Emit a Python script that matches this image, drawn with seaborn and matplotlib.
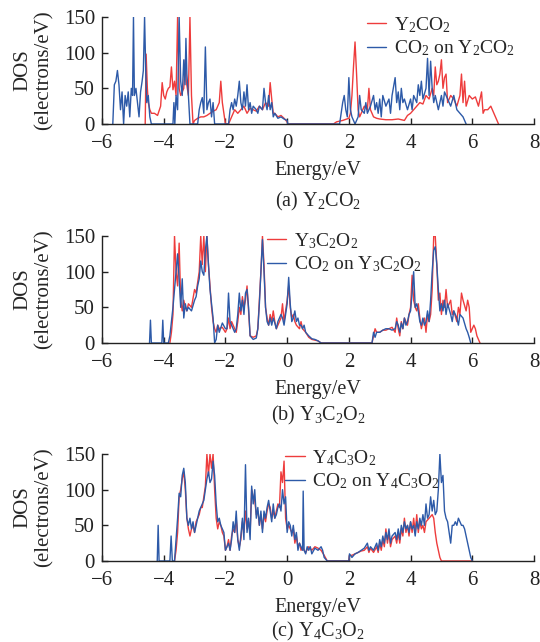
import numpy as np
import pandas as pd
import matplotlib
matplotlib.use("Agg")
import matplotlib.pyplot as plt
import seaborn as sns

# ---------------- data (energy eV, DOS electrons/eV) ----------------
a_red = [(-4.60,0),(-4.57,98),(-4.53,50),(-4.50,30),(-4.45,20),(-4.40,15),(-4.30,15),(-4.20,12),(-4.10,25),(-4.05,58),
         (-4.00,40),(-3.95,35),(-3.90,45),(-3.85,50),(-3.80,52),(-3.75,80),(-3.70,48),(-3.65,60),(-3.60,40),(-3.55,150),
         (-3.50,50),(-3.45,40),(-3.40,45),(-3.35,50),(-3.30,90),(-3.27,60),(-3.20,40),(-3.15,150),(-3.10,40),(-3.05,0),
         (-3.00,5),(-2.90,8),(-2.80,10),(-2.70,10),(-2.60,12),(-2.50,15),(-2.40,18),(-2.30,20),(-2.20,30),(-2.15,60),
         (-2.10,30),(-2.05,15),(-2.00,0),(-1.90,0),(-1.80,10),(-1.70,20),(-1.60,15),(-1.50,20),(-1.40,25),(-1.30,15),
         (-1.20,22),(-1.10,20),(-1.00,18),(-0.90,25),(-0.80,20),(-0.70,30),(-0.60,25),(-0.55,58),(-0.50,35),(-0.45,15),
         (-0.40,15),(-0.30,10),(-0.20,12),(-0.10,8),(0.00,3),(0.02,0),
         (1.50,0),(1.60,3),(1.80,5),(2.00,8),(2.05,15),(2.10,40),(2.15,80),(2.20,115),(2.25,70),(2.30,20),
         (2.35,10),(2.40,15),(2.50,25),(2.60,20),(2.65,50),(2.70,20),(2.80,10),(2.90,8),(3.00,7),(3.20,6),
         (3.40,6),(3.60,7),(3.80,5),(3.90,12),(4.00,15),(4.10,20),(4.20,25),(4.30,30),(4.40,28),(4.50,40),
         (4.60,35),(4.70,50),(4.75,40),(4.80,80),(4.85,55),(4.90,60),(4.95,70),(5.00,90),(5.05,50),(5.10,65),
         (5.15,70),(5.20,30),(5.30,40),(5.40,35),(5.50,25),(5.60,40),(5.65,70),(5.70,30),(5.75,60),(5.80,25),
         (5.90,40),(6.00,35),(6.10,38),(6.20,25),(6.30,45),(6.35,15),(6.40,20),(6.50,20),(6.60,25),(6.70,15),
         (6.80,5),(6.85,0)]
a_blue = [(-5.65,0),(-5.60,55),(-5.55,60),(-5.50,75),(-5.45,55),(-5.40,20),(-5.35,45),(-5.30,0),(-5.25,40),(-5.20,25),
          (-5.15,45),(-5.10,10),(-5.05,50),(-5.01,40),(-4.98,150),(-4.95,40),(-4.90,50),(-4.85,30),(-4.80,10),(-4.75,45),
          (-4.70,60),(-4.66,75),(-4.62,150),(-4.58,70),(-4.55,30),(-4.50,40),(-4.45,10),(-4.40,0),(-3.70,0),(-3.67,30),
          (-3.64,0),(-3.60,40),(-3.55,20),(-3.50,150),(-3.45,60),(-3.40,40),(-3.35,90),(-3.31,55),(-3.28,120),(-3.25,70),
          (-3.20,40),(-3.15,0),(-2.90,0),(-2.85,20),(-2.80,30),(-2.75,37),(-2.70,15),(-2.65,108),(-2.60,20),(-2.55,30),
          (-2.50,35),(-2.45,10),(-2.40,30),(-2.35,0),(-1.90,0),(-1.85,20),(-1.80,30),(-1.75,20),(-1.70,35),(-1.65,25),
          (-1.60,40),(-1.55,60),(-1.50,30),(-1.45,20),(-1.40,45),(-1.35,25),(-1.30,55),(-1.25,20),(-1.20,30),(-1.15,15),
          (-1.10,25),(-1.00,20),(-0.95,15),(-0.90,25),(-0.80,20),(-0.75,50),(-0.70,30),(-0.65,20),(-0.60,40),(-0.55,20),
          (-0.50,30),(-0.45,10),(-0.40,15),(-0.30,8),(-0.20,10),(-0.10,7),(0.00,5),(0.02,0),
          (1.70,0),(1.75,15),(1.80,30),(1.85,40),(1.90,20),(1.95,10),(2.00,65),(2.05,20),(2.10,10),(2.20,0),
          (2.30,10),(2.35,40),(2.40,20),(2.50,15),(2.55,30),(2.60,15),(2.70,25),(2.80,40),(2.85,20),(2.90,30),
          (2.95,15),(3.00,35),(3.05,10),(3.10,40),(3.20,25),(3.30,35),(3.35,15),(3.40,40),(3.50,65),(3.55,30),
          (3.60,45),(3.65,20),(3.70,50),(3.75,30),(3.80,35),(3.90,20),(4.00,35),(4.05,20),(4.10,40),(4.20,30),
          (4.25,55),(4.30,40),(4.35,60),(4.40,35),(4.50,50),(4.55,92),(4.60,40),(4.65,88),(4.70,50),(4.75,30),
          (4.80,40),(4.90,20),(5.00,40),(5.05,25),(5.10,45),(5.20,35),(5.30,25),(5.40,40),(5.50,20),(5.60,15),
          (5.70,10),(5.80,0)]

b_red = [(-3.80,0),(-3.75,15),(-3.70,40),(-3.65,150),(-3.60,100),(-3.55,80),(-3.50,140),(-3.45,60),(-3.40,45),(-3.35,60),
         (-3.30,50),(-3.25,45),(-3.20,55),(-3.10,50),(-3.00,75),(-2.95,70),(-2.90,85),(-2.85,100),(-2.80,150),(-2.75,110),
         (-2.70,150),(-2.65,100),(-2.60,150),(-2.55,110),(-2.50,80),(-2.45,50),(-2.40,30),(-2.35,20),(-2.30,15),(-2.25,25),
         (-2.20,20),(-2.10,22),(-2.00,15),(-1.95,20),(-1.90,35),(-1.85,20),(-1.80,30),(-1.70,20),(-1.65,15),(-1.60,30),
         (-1.55,50),(-1.50,40),(-1.45,65),(-1.40,50),(-1.35,60),(-1.30,80),(-1.25,45),(-1.20,10),(-1.10,8),(-1.00,10),
         (-0.95,20),(-0.90,60),(-0.85,100),(-0.80,150),(-0.75,110),(-0.70,50),(-0.65,35),(-0.60,25),(-0.55,40),(-0.50,30),
         (-0.45,45),(-0.40,30),(-0.35,20),(-0.30,25),(-0.20,35),(-0.15,55),(-0.10,30),(-0.05,45),(0.00,60),(0.05,80),
         (0.10,50),(0.15,35),(0.20,40),(0.25,30),(0.30,25),(0.40,20),(0.45,30),(0.50,20),(0.60,15),(0.70,8),
         (0.80,5),(0.90,4),(1.00,3),(1.10,0),
         (2.75,0),(2.80,10),(2.85,20),(2.90,15),(3.00,15),(3.10,18),(3.20,18),(3.30,20),(3.40,22),(3.50,15),
         (3.55,35),(3.60,20),(3.65,10),(3.70,30),(3.75,20),(3.80,35),(3.85,30),(3.90,25),(3.95,40),(4.00,50),
         (4.05,95),(4.10,60),(4.15,50),(4.20,45),(4.25,55),(4.30,35),(4.35,20),(4.40,30),(4.45,35),(4.50,15),
         (4.55,40),(4.60,30),(4.65,40),(4.70,75),(4.75,150),(4.80,150),(4.85,110),(4.90,60),(4.95,70),(5.00,40),
         (5.05,60),(5.10,50),(5.15,75),(5.20,50),(5.30,60),(5.35,40),(5.40,45),(5.50,30),(5.55,50),(5.60,40),
         (5.65,70),(5.70,60),(5.80,45),(5.85,60),(5.90,50),(5.95,15),(6.00,20),(6.05,25),(6.10,20),(6.15,10),
         (6.20,5),(6.25,0)]
b_blue = [(-4.46,0),(-4.43,32),(-4.40,0),(-4.06,0),(-4.03,32),(-4.00,0),(-3.85,0),(-3.80,10),(-3.75,30),(-3.70,50),
          (-3.60,100),(-3.55,125),(-3.50,90),(-3.45,50),(-3.40,90),(-3.35,35),(-3.30,55),(-3.25,45),(-3.20,50),(-3.10,45),
          (-3.00,60),(-2.95,65),(-2.90,80),(-2.85,90),(-2.80,115),(-2.75,100),(-2.70,95),(-2.65,130),(-2.60,150),(-2.55,110),
          (-2.50,75),(-2.45,55),(-2.40,35),(-2.35,0),(-2.30,5),(-2.25,25),(-2.20,15),(-2.10,28),(-2.00,20),(-1.95,20),
          (-1.90,70),(-1.85,30),(-1.80,25),(-1.70,15),(-1.65,20),(-1.60,40),(-1.55,70),(-1.50,45),(-1.45,60),(-1.40,40),
          (-1.35,70),(-1.30,75),(-1.25,50),(-1.20,10),(-1.10,5),(-1.00,7),(-0.95,20),(-0.90,55),(-0.85,100),(-0.80,145),
          (-0.75,100),(-0.70,50),(-0.65,30),(-0.60,25),(-0.55,35),(-0.50,25),(-0.45,35),(-0.40,28),(-0.35,20),(-0.30,30),
          (-0.20,40),(-0.15,35),(-0.10,25),(-0.05,40),(0.00,55),(0.05,92),(0.10,55),(0.15,30),(0.20,35),(0.25,45),
          (0.30,30),(0.35,35),(0.40,25),(0.45,25),(0.50,20),(0.55,25),(0.60,15),(0.70,10),(0.80,6),(0.90,5),
          (1.00,3),(1.10,0),
          (2.75,0),(2.80,15),(2.85,8),(2.90,15),(3.00,15),(3.10,18),(3.20,20),(3.30,20),(3.40,18),(3.50,20),
          (3.55,30),(3.60,25),(3.65,15),(3.70,28),(3.75,20),(3.80,35),(3.85,25),(3.90,30),(3.95,40),(4.00,45),
          (4.05,70),(4.10,100),(4.15,50),(4.20,55),(4.25,45),(4.30,30),(4.35,25),(4.40,35),(4.45,25),(4.50,30),
          (4.55,45),(4.60,30),(4.65,60),(4.70,100),(4.75,130),(4.80,135),(4.85,110),(4.90,75),(4.95,45),(5.00,55),
          (5.05,45),(5.10,60),(5.15,40),(5.20,55),(5.30,40),(5.35,30),(5.40,45),(5.50,35),(5.55,25),(5.60,40),
          (5.70,35),(5.80,20),(5.85,15),(5.90,8),(5.95,0)]

c_red = [(-3.65,0),(-3.60,15),(-3.55,40),(-3.50,90),(-3.45,100),(-3.40,115),(-3.35,125),(-3.30,100),(-3.25,60),(-3.20,45),
         (-3.15,35),(-3.10,45),(-3.05,50),(-3.00,40),(-2.95,55),(-2.90,60),(-2.85,65),(-2.80,75),(-2.75,75),(-2.70,90),
         (-2.65,105),(-2.60,150),(-2.55,120),(-2.50,150),(-2.45,130),(-2.40,150),(-2.35,100),(-2.30,60),(-2.25,45),(-2.20,55),
         (-2.15,50),(-2.10,40),(-2.05,35),(-2.00,15),(-1.95,20),(-1.90,30),(-1.85,15),(-1.80,35),(-1.75,45),(-1.70,40),
         (-1.65,60),(-1.60,30),(-1.55,20),(-1.50,30),(-1.45,55),(-1.40,40),(-1.35,70),(-1.30,45),(-1.25,55),(-1.20,40),
         (-1.15,100),(-1.10,90),(-1.05,85),(-1.00,65),(-0.95,70),(-0.90,50),(-0.85,65),(-0.80,45),(-0.75,65),(-0.70,55),
         (-0.65,70),(-0.60,80),(-0.55,75),(-0.50,60),(-0.45,70),(-0.40,60),(-0.35,70),(-0.30,80),(-0.25,75),(-0.20,125),
         (-0.15,110),(-0.10,140),(-0.05,60),(0.00,45),(0.05,50),(0.10,45),(0.15,40),(0.20,45),(0.25,25),(0.30,35),
         (0.35,20),(0.40,25),(0.45,15),(0.50,20),(0.55,15),(0.60,12),(0.70,20),(0.80,15),(0.90,20),(1.00,18),
         (1.10,15),(1.20,8),(1.30,0),
         (2.00,0),(2.02,8),(2.10,8),(2.20,10),(2.30,12),(2.40,14),(2.50,15),(2.60,20),(2.65,12),(2.70,18),
         (2.80,12),(2.90,20),(2.95,12),(3.00,25),(3.05,15),(3.10,30),(3.15,20),(3.20,45),(3.25,25),(3.30,40),
         (3.35,20),(3.40,30),(3.50,35),(3.55,25),(3.60,40),(3.65,25),(3.70,45),(3.75,35),(3.80,60),(3.85,40),
         (3.90,50),(3.95,35),(4.00,55),(4.05,40),(4.10,60),(4.15,40),(4.20,65),(4.25,40),(4.30,55),(4.35,45),
         (4.40,50),(4.45,40),(4.50,55),(4.60,60),(4.70,65),(4.75,60),(4.80,40),(4.85,25),(4.90,15),(4.95,5),
         (5.00,0),(6.00,0)]
c_blue = [(-4.21,0),(-4.18,50),(-4.15,0),(-3.80,0),(-3.76,35),(-3.72,0),(-3.65,0),(-3.60,30),(-3.55,60),(-3.50,95),
          (-3.45,90),(-3.40,120),(-3.35,130),(-3.30,110),(-3.25,60),(-3.20,50),(-3.15,60),(-3.10,45),(-3.05,55),(-3.00,40),
          (-2.95,50),(-2.90,60),(-2.85,70),(-2.80,75),(-2.75,80),(-2.70,85),(-2.65,100),(-2.60,115),(-2.55,125),(-2.50,110),
          (-2.45,115),(-2.40,140),(-2.35,120),(-2.30,80),(-2.25,55),(-2.20,60),(-2.15,50),(-2.10,45),(-2.05,40),(-2.00,15),
          (-1.95,20),(-1.90,25),(-1.85,15),(-1.80,30),(-1.75,55),(-1.70,40),(-1.65,70),(-1.60,30),(-1.55,15),(-1.50,35),
          (-1.45,60),(-1.40,30),(-1.35,135),(-1.30,40),(-1.25,60),(-1.20,30),(-1.15,105),(-1.10,80),(-1.05,100),(-1.00,60),
          (-0.95,75),(-0.90,50),(-0.85,70),(-0.80,40),(-0.75,70),(-0.70,60),(-0.65,75),(-0.60,85),(-0.55,70),(-0.50,55),
          (-0.45,80),(-0.40,60),(-0.35,65),(-0.30,75),(-0.25,80),(-0.20,70),(-0.15,100),(-0.10,80),(-0.05,90),(0.00,40),
          (0.05,55),(0.10,50),(0.15,35),(0.20,50),(0.25,30),(0.30,40),(0.35,15),(0.40,25),(0.45,20),(0.50,15),
          (0.52,98),(0.55,15),(0.60,10),(0.65,20),(0.70,15),(0.75,20),(0.80,10),(0.90,18),(1.00,15),(1.10,20),
          (1.15,15),(1.20,5),(1.30,0),
          (2.00,0),(2.02,10),(2.10,5),(2.20,10),(2.30,12),(2.40,15),(2.50,18),(2.60,25),(2.65,15),(2.70,20),
          (2.80,15),(2.90,25),(2.95,15),(3.00,30),(3.05,20),(3.10,35),(3.15,25),(3.20,40),(3.25,30),(3.30,45),
          (3.35,25),(3.40,35),(3.50,40),(3.55,30),(3.60,45),(3.65,30),(3.70,50),(3.75,40),(3.80,55),(3.85,45),
          (3.90,50),(3.95,40),(4.00,55),(4.05,45),(4.10,50),(4.15,35),(4.20,55),(4.25,45),(4.30,60),(4.35,50),
          (4.40,65),(4.45,50),(4.50,80),(4.55,60),(4.60,65),(4.65,90),(4.70,70),(4.75,85),(4.80,65),(4.85,70),
          (4.90,100),(4.95,150),(5.00,110),(5.05,120),(5.10,70),(5.15,60),(5.20,55),(5.25,40),(5.30,25),(5.35,50),
          (5.40,50),(5.45,55),(5.50,50),(5.55,60),(5.60,55),(5.65,50),(5.70,50),(5.75,45),(5.80,35),(5.85,25),
          (5.90,15),(5.95,5),(6.00,0)]

red_labels = [r"Y$_2$CO$_2$", r"Y$_3$C$_2$O$_2$", r"Y$_4$C$_3$O$_2$"]
blue_labels = [r"CO$_2$ on Y$_2$CO$_2$", r"CO$_2$ on Y$_3$C$_2$O$_2$", r"CO$_2$ on Y$_4$C$_3$O$_2$"]
captions = [r"(a) Y$_2$CO$_2$", r"(b) Y$_3$C$_2$O$_2$", r"(c) Y$_4$C$_3$O$_2$"]
x_ticks = [-6, -4, -2, 0, 2, 4, 6, 8]
y_ticks = [0, 50, 100, 150]

# ---------------- style ----------------
sns.set_theme(style="ticks")
plt.rcParams["font.family"] = ["Liberation Serif", "DejaVu Serif"]
plt.rcParams["mathtext.fontset"] = "custom"
plt.rcParams["mathtext.rm"] = "Liberation Serif"
plt.rcParams["mathtext.it"] = "Liberation Serif:italic"
plt.rcParams["mathtext.default"] = "rm"

RED = "#ee3c3c"
BLUE = "#2d5aa8"

fig = plt.figure(figsize=(5.4, 6.42), dpi=100)
L, W = 102/540, 432/540
H = 107/642
bottoms = [1-124/642, 1-343/642, 1-561/642]
leg_x = [0.613, 0.382, 0.424]
leg_y = [1.02, 1.047, 1.056]
cap_off = [77, 72, 70]   # pixels below axis

panels = [(a_red, a_blue), (b_red, b_blue), (c_red, c_blue)]
for i, (rd, bl) in enumerate(panels):
    ax = fig.add_axes([L, bottoms[i], W, H])
    dr = pd.DataFrame(rd, columns=["E", "DOS"])
    db = pd.DataFrame(bl, columns=["E", "DOS"])
    sns.lineplot(data=dr, x="E", y="DOS", ax=ax, color=RED, lw=1.0, sort=False,
                 estimator=None, label=red_labels[i])
    sns.lineplot(data=db, x="E", y="DOS", ax=ax, color=BLUE, lw=1.0, sort=False,
                 estimator=None, label=blue_labels[i])
    ax.set_xlim(-6, 8)
    ax.set_ylim(0, 150)
    ax.set_xticks(x_ticks)
    ax.set_yticks(y_ticks)
    sns.despine(ax=ax)
    for s in ["left", "bottom"]:
        ax.spines[s].set_linewidth(1.0)
        ax.spines[s].set_color("#222222")
    ax.tick_params(direction="in", length=4, width=1.0, labelsize=15, colors="#222222")
    ax.tick_params(axis="y", pad=5)
    ax.tick_params(axis="x", pad=7)
    ax.set_xlabel("Energy/eV", fontsize=14.5, labelpad=6)
    ax.set_ylabel("DOS\n(electrons/eV)", fontsize=15, labelpad=7, linespacing=1.2)
    ax.annotate(captions[i], xy=(0.5, 0), xycoords="axes fraction",
                xytext=(0, -cap_off[i] * 0.72), textcoords="offset points",
                ha="center", va="center", fontsize=14.5)
    ax.legend(loc="upper left", bbox_to_anchor=(leg_x[i], leg_y[i]), frameon=False,
              fontsize=14, handlelength=1.0, handletextpad=0.4, labelspacing=0.2,
              borderpad=0, borderaxespad=0)

fig.savefig("out.png", dpi=100)
